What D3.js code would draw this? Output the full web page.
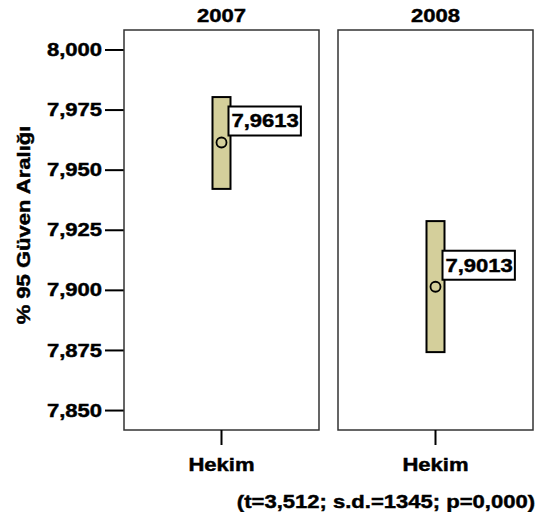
<!DOCTYPE html>
<html>
<head>
<meta charset="utf-8">
<script src="https://cdn.jsdelivr.net/npm/d3@7"></script>
<style>
  body { margin: 0; background: #fff; }
  svg text { font-family: "Liberation Sans", Arial, sans-serif; font-weight: bold; fill: #000; stroke: #000; stroke-width: 0.45px; }
</style>
</head>
<body>
<svg id="chart" width="537" height="512"></svg>
<script>
// Data: 95% confidence intervals of the mean, by year
const years = ["2007", "2008"];
const groups = ["Hekim"];
const means = [7.9613, 7.9013];
const lower = [7.9420, 7.8741];
const upper = [7.9802, 7.9286];
const yTicks = [7.850, 7.875, 7.900, 7.925, 7.950, 7.975, 8.000];
const yTitle = "% 95 Güven Aralığı";
const note = "(t=3,512; s.d.=1345; p=0,000)";

const W = 537, H = 512;
const plot = { left: 124, right: 533, top: 30, bottom: 430 };
const STRETCH = 1.16;   // wide bold face
const FS = 19;

const svg = d3.select("#chart");
const locale = d3.formatLocale({ decimal: ",", thousands: ".", grouping: [3], currency: ["", ""] });
const fmt3 = locale.format(".3f");
const fmt4 = locale.format(".4f");

const y = d3.scaleLinear().domain([7.8417, 8.0081]).range([plot.bottom, plot.top]);
const panel = d3.scaleBand().domain(years).range([plot.left, plot.right]).paddingInner(0.0888);
const inner = d3.scaleBand().domain(groups).range([0, panel.bandwidth()]).paddingInner(0).paddingOuter(0.45);

// horizontally widen a text element about its own anchor point
function widen(sel) {
  sel.each(function () {
    const t = d3.select(this);
    const x = +t.attr("x") || 0;
    t.attr("transform", `translate(${x},0) scale(${STRETCH},1) translate(${-x},0)`);
  });
}

function styleText(sel) {
  sel.attr("font-size", FS).attr("font-family", "Liberation Sans, Arial, sans-serif")
    .attr("font-weight", "bold").attr("fill", "#000");
}

// Left axis
const yAxis = svg.append("g")
  .attr("transform", `translate(${plot.left},0)`)
  .call(d3.axisLeft(y).tickValues(yTicks).tickFormat(fmt3).tickSize(19).tickPadding(3));
yAxis.select(".domain").remove();
yAxis.selectAll(".tick line").attr("stroke", "#000").attr("stroke-width", 2);
yAxis.selectAll(".tick text").call(styleText).call(widen);

// Y title
svg.append("text")
  .attr("transform", `translate(30,225) rotate(-90) scale(${STRETCH},1)`)
  .attr("text-anchor", "middle")
  .attr("font-size", FS)
  .text(yTitle);

// Panels
years.forEach((yr, i) => {
  const g = svg.append("g").attr("transform", `translate(${panel(yr)},0)`);
  const bw = panel.bandwidth();

  g.append("rect")
    .attr("x", 0).attr("y", plot.top)
    .attr("width", bw).attr("height", plot.bottom - plot.top)
    .attr("fill", "none").attr("stroke", "#333").attr("stroke-width", 1.5);

  // year title
  svg.append("text")
    .attr("x", panel(yr) + bw / 2).attr("y", 22)
    .attr("text-anchor", "middle").attr("font-size", FS)
    .text(yr).call(widen);

  // category axis
  const xAxis = g.append("g")
    .attr("transform", `translate(0,${plot.bottom})`)
    .call(d3.axisBottom(inner).tickSize(15).tickPadding(13));
  xAxis.select(".domain").remove();
  xAxis.selectAll(".tick line").attr("stroke", "#000").attr("stroke-width", 2);
  xAxis.selectAll(".tick text").call(styleText).call(widen);

  groups.forEach(gr => {
    const cx = inner(gr) + inner.bandwidth() / 2;
    const barW = 18;
    // interval bar
    g.append("rect")
      .attr("x", cx - barW / 2).attr("y", y(upper[i]))
      .attr("width", barW).attr("height", y(lower[i]) - y(upper[i]))
      .attr("fill", "#d4cf9b").attr("stroke", "#000").attr("stroke-width", 2);
    // mean marker
    g.append("circle")
      .attr("cx", cx).attr("cy", y(means[i])).attr("r", 5)
      .attr("fill", "#d4cf9b").attr("stroke", "#000").attr("stroke-width", 1.8);
    // value label
    const lx = cx + barW / 2 - 2;
    const by = y(means[i]) - 36;
    const box = g.append("rect")
      .attr("x", lx).attr("y", by).attr("height", 29)
      .attr("fill", "#fff").attr("stroke", "#000").attr("stroke-width", 2);
    const txt = g.append("text")
      .attr("x", lx + 3).attr("y", by + 21)
      .attr("font-size", FS)
      .text(fmt4(means[i])).call(widen);
    const tw = txt.node().getBBox().width * STRETCH;
    box.attr("width", tw + 5);
  });
});

// footnote
svg.append("text")
  .attr("x", 535).attr("y", 508)
  .attr("text-anchor", "end").attr("font-size", FS)
  .text(note).call(widen);
</script>
</body>
</html>
